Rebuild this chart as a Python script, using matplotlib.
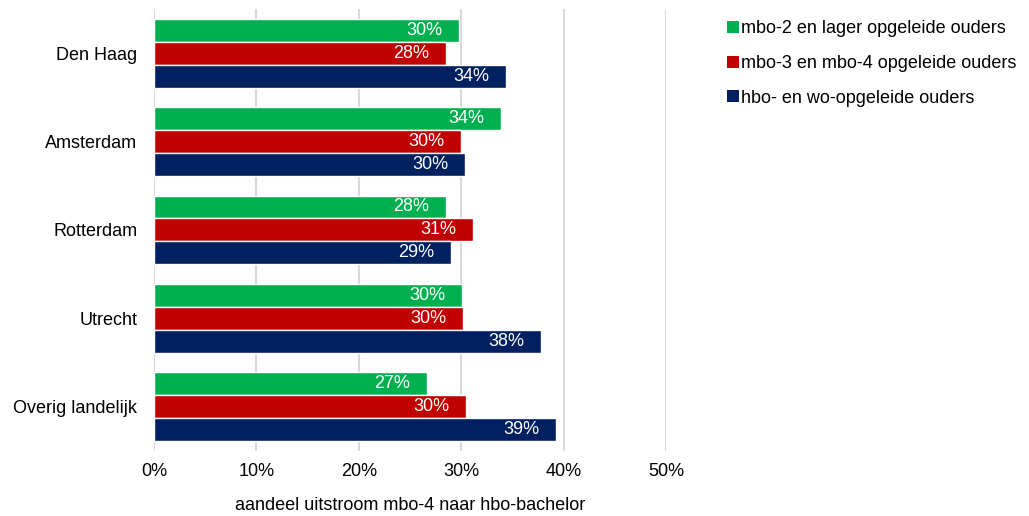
import matplotlib
matplotlib.use("Agg")
import matplotlib.pyplot as plt
import numpy as np
from matplotlib.patches import Patch

plt.rcParams["font.family"] = ["Liberation Sans", "DejaVu Sans"]

regions = ["Den Haag", "Amsterdam", "Rotterdam", "Utrecht", "Overig landelijk"]
series_names = [
    "mbo-2 en lager opgeleide ouders",
    "mbo-3 en mbo-4 opgeleide ouders",
    "hbo- en wo-opgeleide ouders",
]
mbo2_lager = [29.8, 33.9, 28.5, 30.1, 26.7]
mbo3_mbo4 = [28.5, 30.0, 31.2, 30.2, 30.5]
hbo_wo = [34.4, 30.4, 29.0, 37.8, 39.3]
colors = ["#00B050", "#C00000", "#002060"]

fig = plt.figure(figsize=(10.29, 5.16), dpi=100)
ax = fig.add_axes([0.1497, 0.126, 0.4975, 0.8566])

y = np.arange(len(regions))
step = 0.26
for i, (vals, col) in enumerate(zip([mbo2_lager, mbo3_mbo4, hbo_wo], colors)):
    pos = y + (i - 1) * step
    bars = ax.barh(pos, vals, height=step, color=col, edgecolor="white", linewidth=1.0, zorder=3)
    for b, v in zip(bars, vals):
        ax.annotate(f"{round(v):.0f}%", xy=(v, b.get_y() + b.get_height() / 2),
                    xytext=(-17, 0), textcoords="offset pixels",
                    ha="right", va="center", color="white", fontsize=13, zorder=4)

ax.set_ylim(len(regions) - 0.5, -0.5)
ax.set_xlim(0, 50)
ax.set_xticks(np.arange(0, 51, 10))
ax.set_xticklabels([f"{t}%" for t in range(0, 51, 10)])
ax.set_yticks(y)
ax.set_yticklabels(regions)
ax.tick_params(axis="both", length=0, labelsize=13, colors="black")
ax.tick_params(axis="y", pad=12)
ax.tick_params(axis="x", pad=9)
ax.xaxis.grid(True, color="#D9D9D9", linewidth=1.5, zorder=0)
ax.set_axisbelow(True)
for s in ax.spines.values():
    s.set_visible(False)
ax.set_xlabel("aandeel uitstroom mbo-4 naar hbo-bachelor", fontsize=13, labelpad=12)

handles = [Patch(facecolor=c, edgecolor="none") for c in colors]
fig.legend(handles, series_names, loc="upper left", bbox_to_anchor=(0.691, 0.992),
           frameon=False, fontsize=13, handlelength=0.65, handleheight=0.65,
           handletextpad=0.12, labelspacing=0.98)

fig.savefig("out.png", dpi=100)
